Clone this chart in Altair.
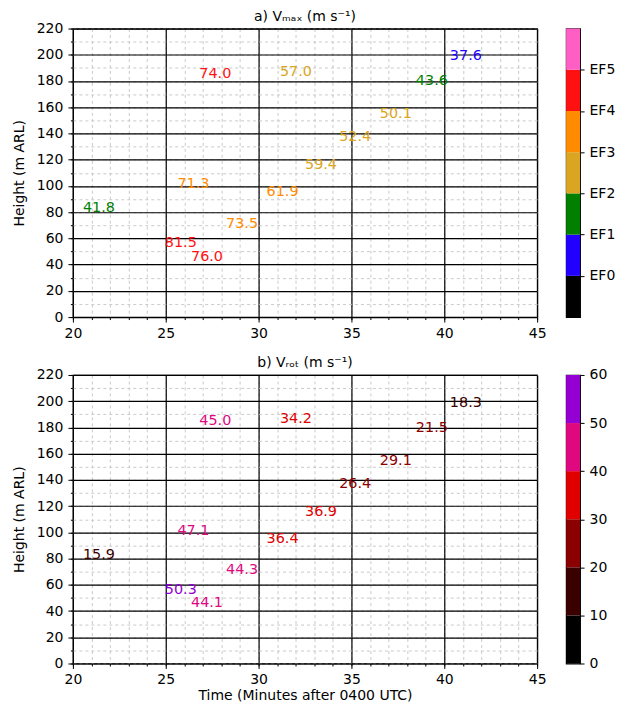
import altair as alt
import pandas as pd

# ---- data ----
times = [40.3, 38.47, 36.53, 34.34, 32.5, 31.15, 30.43, 28.25, 26.81, 26.36, 25.63, 24.95, 20.54]
heights = [195.7, 176.7, 151.6, 133.9, 112.8, 183.5, 92.0, 68.0, 182.0, 43.1, 98.1, 53.2, 79.8]
vmax = [37.6, 43.6, 50.1, 52.4, 59.4, 57.0, 61.9, 73.5, 74.0, 76.0, 71.3, 81.5, 41.8]
vrot = [18.3, 21.5, 29.1, 26.4, 36.9, 34.2, 36.4, 44.3, 45.0, 44.1, 47.1, 50.3, 15.9]

# EF colour bins (m/s thresholds) and colours
ef_thresholds = [29, 38, 50, 61, 74, 89]
ef_colors = ["#000000", "#2200ff", "#008000", "#daa520", "#ff8c00", "#ff1111", "#ff5fc4"]
ef_labels = ["EF0", "EF1", "EF2", "EF3", "EF4", "EF5"]

# Vrot colour bins
rot_thresholds = [10, 20, 30, 40, 50]
rot_colors = ["#000000", "#3a0000", "#8b0000", "#e00000", "#e0087f", "#9400d3"]
rot_ticks = [0, 10, 20, 30, 40, 50, 60]

x_major = [20, 25, 30, 35, 40, 45]
x_minor = list(range(20, 46))
y_major = list(range(0, 221, 20))
y_minor = list(range(0, 221, 10))

FONT = "DejaVu Sans"
W, H = 465, 289

df = pd.DataFrame({"t": times, "h": heights, "vmax": vmax, "vrot": vrot})


def panel(field, title, thresholds, colors, xtitle):
    base = alt.Chart(df)
    xs = alt.Scale(domain=[20, 45], nice=False)
    ys = alt.Scale(domain=[0, 220], nice=False)
    minor = base.mark_point(opacity=0).encode(
        x=alt.X("t:Q", scale=xs, axis=alt.Axis(
            orient="bottom", values=x_minor, labels=False, title=None, domain=False,
            tickSize=2.5, tickColor="#000000", grid=True, gridColor="#c4c4c4",
            gridDash=[3, 3], gridWidth=0.9)),
        y=alt.Y("h:Q", scale=ys, axis=alt.Axis(
            orient="left", values=y_minor, labels=False, title=None, domain=False,
            tickSize=2.5, tickColor="#000000", grid=True, gridColor="#c4c4c4",
            gridDash=[3, 3], gridWidth=0.9)),
    )
    major = base.mark_text(align="left", baseline="alphabetic", fontSize=14.4, font=FONT).encode(
        x=alt.X("t:Q", scale=xs, axis=alt.Axis(
            orient="bottom", values=x_major, title=xtitle, domain=False, tickSize=5,
            labelPadding=4, titlePadding=2, grid=True, gridColor="#000000", gridWidth=1.2,
            gridOpacity=1, labelFlush=False)),
        y=alt.Y("h:Q", scale=ys, axis=alt.Axis(
            orient="left", values=y_major, title="Height (m ARL)", domain=False, tickSize=5,
            labelPadding=5, titlePadding=10, grid=True, gridColor="#000000", gridWidth=1.2,
            gridOpacity=1, labelFlush=False)),
        text=alt.Text(f"{field}:Q", format=".1f"),
        color=alt.Color(f"{field}:Q", scale=alt.Scale(type="threshold", domain=thresholds, range=colors), legend=None),
    )
    return alt.layer(minor, major).resolve_axis(x="independent", y="independent").properties(
        width=W, height=H,
        title=alt.TitleParams(title, fontSize=14, font=FONT, fontWeight="normal",
                              baseline="alphabetic", offset=-13, color="#000000"))


def colorbar(name, bounds, colors, ticks, label_expr):
    segs = [f"{name}{i}" for i in range(len(colors))]
    cdf = pd.DataFrame({"lo": bounds[:-1], "hi": bounds[1:], "seg": segs})
    return alt.Chart(cdf).mark_rect().encode(
        y=alt.Y("lo:Q", scale=alt.Scale(domain=[bounds[0], bounds[-1]], nice=False),
                axis=alt.Axis(orient="right", values=ticks, title=None, domain=False, grid=False,
                              tickSize=4, labelPadding=5, labelExpr=label_expr, labelFlush=False)),
        y2="hi:Q",
        color=alt.Color("seg:N", scale=alt.Scale(domain=segs, range=colors), legend=None),
    ).properties(width=14, height=H)


ef_bounds = list(range(0, len(ef_colors) + 1))
ef_expr = "[" + ",".join(f"'{l}'" for l in ef_labels) + "][datum.value - 1]"
cb_a = colorbar("ef", ef_bounds, ef_colors, list(range(1, len(ef_labels) + 1)), ef_expr)
cb_b = colorbar("rot", rot_ticks, rot_colors, rot_ticks, "datum.label")

pa = panel("vmax", "a) Vₘₐₓ (m s⁻¹)", ef_thresholds, ef_colors, None)
pb = panel("vrot", "b) Vᵣₒₜ (m s⁻¹)", rot_thresholds, rot_colors, "Time (Minutes after 0400 UTC)")

row_a = alt.hconcat(pa, cb_a, spacing=29, bounds="flush").resolve_scale(color="independent")
row_b = alt.hconcat(pb, cb_b, spacing=29, bounds="flush").resolve_scale(color="independent")

chart = alt.vconcat(row_a, row_b, spacing=14).resolve_scale(color="independent").properties(
    padding={"left": 3, "top": 0, "right": 0, "bottom": 0},
    background="white"
).configure_view(stroke="#000000", strokeWidth=1.2).configure_axis(
    labelFont=FONT, titleFont=FONT, labelFontSize=14, titleFontSize=14, labelColor="#000000",
    titleColor="#000000", titleFontWeight="normal", tickColor="#000000"
)

chart.save("out.html", embed_options={"renderer": "svg", "actions": False})
